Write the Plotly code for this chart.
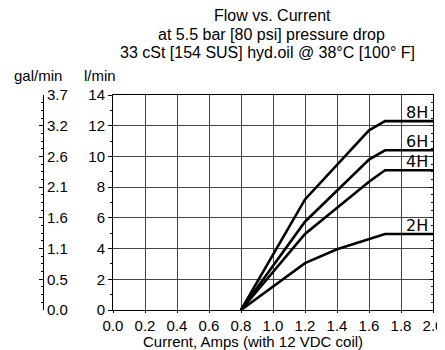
import plotly.graph_objects as go

# ---- data ----
current = [0.8, 1.2, 1.6, 1.7, 2.0]
flow_8H = [0.0, 7.2, 11.7, 12.3, 12.3]
flow_6H = [0.0, 5.75, 9.8, 10.4, 10.4]
flow_4H = [0.0, 4.95, 8.35, 9.1, 9.1]
current_2H = [0.8, 1.2, 1.4, 1.7, 2.0]
flow_2H = [0.0, 3.05, 3.95, 4.95, 4.95]
series_names = ["8H", "6H", "4H", "2H"]

lmin_ticks = [0, 2, 4, 6, 8, 10, 12, 14]
lmin_labels = ["0", "2", "4", "6", "8", "10", "12", "14"]
gal_labels = ["0.0", "0.5", "1.1", "1.6", "2.1", "2.6", "3.2", "3.7"]
x_ticks = [0.0, 0.2, 0.4, 0.6, 0.8, 1.0, 1.2, 1.4, 1.6, 1.8, 2.0]
x_labels = ["%.1f" % v for v in x_ticks]

# page has an 8px body margin; work in page coordinates and convert
OFF = 8
W, H = 445 - OFF, 350 - OFF
plot_l, plot_r, plot_t, plot_b = 113 - OFF, 433 - OFF, 95 - OFF, 310 - OFF
gal_axis_x = 43 - OFF
ML = gal_axis_x - 8
MR = W - plot_r
MT = plot_t
MB = H - plot_b
pw = W - ML - MR
ph = H - MT - MB
x_dom0 = (plot_l - ML) / pw
gal_pos = (gal_axis_x - ML) / pw


def px_x(p):  # page x -> paper
    return (p - OFF - ML) / pw


def px_y(p):  # page y -> paper
    return (H - MB - (p - OFF)) / ph


FONT = "Liberation Sans, Arial, sans-serif"
fig = go.Figure()

series = [
    (current, flow_8H, "8H"),
    (current, flow_6H, "6H"),
    (current, flow_4H, "4H"),
    (current_2H, flow_2H, "2H"),
]
for xs, ys, name in series:
    fig.add_trace(go.Scatter(x=xs, y=ys, mode="lines", name=name,
                             line=dict(color="black", width=2.6),
                             hoverinfo="skip", showlegend=False))
    fig.add_annotation(x=2.0, y=ys[-1], xref="x", yref="y", text=name,
                       showarrow=False, xanchor="right", yanchor="bottom",
                       xshift=-3, yshift=-3,
                       font=dict(family="DejaVu Sans, Verdana, sans-serif", size=16, color="black"))

# invisible traces to activate extra axes
fig.add_trace(go.Scatter(x=[0], y=[0], yaxis="y2", mode="markers",
                         marker=dict(opacity=0), hoverinfo="skip", showlegend=False))
fig.add_trace(go.Scatter(x=[0], y=[0], yaxis="y3", mode="markers",
                         marker=dict(opacity=0), hoverinfo="skip", showlegend=False))

fig.update_layout(
    width=W, height=H,
    margin=dict(l=ML, r=MR, t=MT, b=MB, autoexpand=False),
    paper_bgcolor="white", plot_bgcolor="white",
    font=dict(family=FONT, size=15, color="black"),
    xaxis=dict(domain=[x_dom0, 1], range=[0, 2.0], tickvals=x_ticks, ticktext=x_labels,
               automargin=False,
               showgrid=True, gridcolor="#444", gridwidth=1,
               showline=True, linecolor="black", linewidth=1, mirror=True,
               ticks="outside", ticklen=2, tickcolor="black", zeroline=False,
               tickfont=dict(size=15)),
    yaxis=dict(range=[0, 14], tickvals=lmin_ticks, ticktext=lmin_labels,
               automargin=False,
               showgrid=True, gridcolor="#444", gridwidth=1,
               showline=True, linecolor="black", linewidth=1,
               ticks="outside", ticklen=4, tickcolor="black", zeroline=False,
               tickfont=dict(size=15),
               minor=dict(dtick=1, ticks="outside", ticklen=2, tickcolor="black")),
    yaxis2=dict(overlaying="y", anchor="free", position=gal_pos, side="right",
                automargin=False,
                range=[0, 14], tickvals=lmin_ticks, ticktext=gal_labels,
                showgrid=False, zeroline=False,
                showline=True, linecolor="black", linewidth=1,
                ticks="inside", ticklen=4, tickcolor="black",
                tickfont=dict(size=15),
                minor=dict(dtick=0.5, ticks="inside", ticklen=2, tickcolor="black")),
    yaxis3=dict(overlaying="y", anchor="x", side="right", range=[0, 14],
                automargin=False,
                showticklabels=False, showgrid=False, zeroline=False,
                showline=True, linecolor="black", linewidth=1,
                dtick=2, ticks="inside", ticklen=3, tickcolor="black",
                minor=dict(dtick=0.5, ticks="inside", ticklen=2, tickcolor="black")),
)

# titles (positions given in page pixels)
fig.add_annotation(xref="paper", yref="paper", x=px_x(272), y=px_y(15),
                   text="Flow vs. Current", showarrow=False, yanchor="middle",
                   font=dict(size=16))
fig.add_annotation(xref="paper", yref="paper", x=px_x(271), y=px_y(34),
                   text="at 5.5 bar [80 psi] pressure drop", showarrow=False, yanchor="middle",
                   font=dict(size=16))
fig.add_annotation(xref="paper", yref="paper", x=px_x(267), y=px_y(53),
                   text="33 cSt [154 SUS] hyd.oil @ 38°C [100° F]", showarrow=False, yanchor="middle",
                   font=dict(size=16))
fig.add_annotation(xref="paper", yref="paper", x=px_x(12), y=px_y(75),
                   text="gal/min", showarrow=False, yanchor="middle", xanchor="left",
                   font=dict(size=15))
fig.add_annotation(xref="paper", yref="paper", x=px_x(82), y=px_y(75),
                   text="l/min", showarrow=False, yanchor="middle", xanchor="left",
                   font=dict(size=15))
fig.add_annotation(xref="paper", yref="paper", x=px_x(253), y=px_y(341),
                   text="Current, Amps (with 12 VDC coil)", showarrow=False,
                   yanchor="middle", xanchor="center", font=dict(size=15))

fig.write_html("out.html")
